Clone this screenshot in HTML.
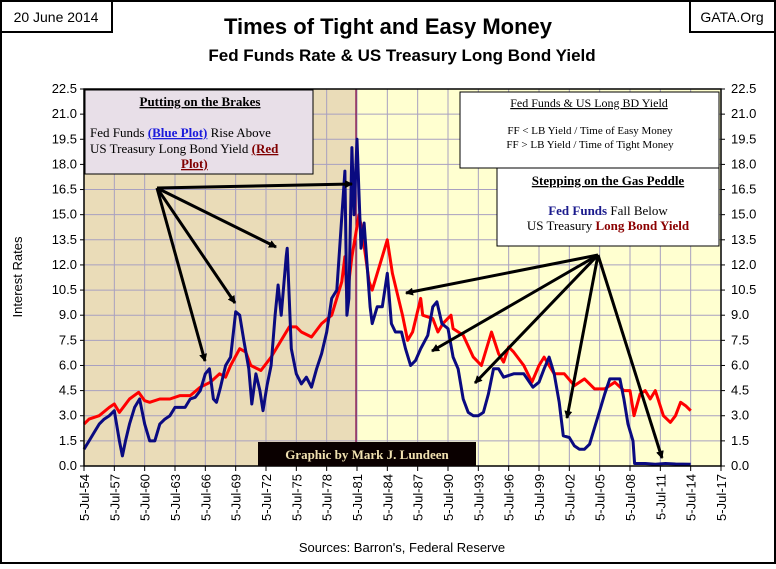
<!DOCTYPE html>
<html><head><meta charset="utf-8"><style>
body{margin:0;background:#fff}
svg text{font-family:"Liberation Sans",sans-serif}
.serif{font-family:"Liberation Serif",serif}
</style></head><body>
<svg id="chart" width="776" height="564" viewBox="0 0 776 564" xmlns="http://www.w3.org/2000/svg">
<defs>
<marker id="ah" markerWidth="8" markerHeight="8" refX="7" refY="4" orient="auto" markerUnits="userSpaceOnUse"><path d="M0,0 L8,4 L0,8 Z" fill="#000"/></marker>
</defs>
<rect x="1" y="1" width="774" height="562" fill="#fff" stroke="#000" stroke-width="2"/>
<rect x="84" y="89" width="272" height="377" fill="#eadcb8"/>
<rect x="356" y="89" width="365" height="377" fill="#ffffd0"/>
<g id="grid"></g>
<line x1="356" y1="89" x2="356" y2="466" stroke="#800040" stroke-width="1.2"/>
<g id="series"></g>
<rect x="84" y="89" width="637" height="377" fill="none" stroke="#000" stroke-width="1.5"/>
<g id="axes"></g>
<text x="388" y="34" text-anchor="middle" font-size="22" font-weight="bold">Times of Tight and Easy Money</text>
<text x="402" y="61" text-anchor="middle" font-size="17" font-weight="bold">Fed Funds Rate &amp; US Treasury Long Bond Yield</text>
<rect x="1" y="1" width="111" height="31" fill="#fff" stroke="#000" stroke-width="2"/>
<text x="56" y="22" text-anchor="middle" font-size="14">20 June 2014</text>
<rect x="690" y="1" width="85" height="31" fill="#fff" stroke="#000" stroke-width="2"/>
<text x="732" y="22" text-anchor="middle" font-size="14">GATA.Org</text>
<text transform="translate(22,277) rotate(-90)" text-anchor="middle" font-size="13">Interest Rates</text>
<text x="402" y="552" text-anchor="middle" font-size="13">Sources: Barron's, Federal Reserve</text>

<g>
<rect x="85" y="90" width="228" height="84" fill="#e8dfe8" stroke="#000"/>
<text class="serif" x="200" y="106" text-anchor="middle" font-size="13" font-weight="bold" text-decoration="underline">Putting on the Brakes</text>
<text class="serif" x="90" y="137" font-size="13">Fed Funds <tspan fill="#1a1adc" font-weight="bold" text-decoration="underline">(Blue Plot)</tspan> Rise Above</text>
<text class="serif" x="90" y="153" font-size="13">US Treasury Long Bond Yield <tspan fill="#800000" font-weight="bold" text-decoration="underline">(Red</tspan></text>
<text class="serif" x="181" y="168" font-size="13" fill="#800000" font-weight="bold" text-decoration="underline">Plot)</text>
</g>
<g>
<rect x="460" y="92" width="259" height="76" fill="#fff" stroke="#000"/>
<text class="serif" x="589" y="107" text-anchor="middle" font-size="12" text-decoration="underline">Fed Funds &amp; US Long BD Yield</text>
<text class="serif" x="590" y="134" text-anchor="middle" font-size="11">FF &lt; LB Yield / Time of Easy Money</text>
<text class="serif" x="590" y="148" text-anchor="middle" font-size="11">FF &gt; LB Yield / Time of Tight Money</text>
</g>
<g>
<rect x="497" y="168" width="222" height="78" fill="#fff" stroke="#000"/>
<text class="serif" x="608" y="185" text-anchor="middle" font-size="13" font-weight="bold" text-decoration="underline">Stepping on the Gas Peddle</text>
<text class="serif" x="608" y="215" text-anchor="middle" font-size="13"><tspan fill="#1a1a8c" font-weight="bold">Fed Funds</tspan> Fall Below</text>
<text class="serif" x="608" y="230" text-anchor="middle" font-size="13">US Treasury <tspan fill="#8b0000" font-weight="bold">Long Bond Yield</tspan></text>
</g>
<g>
<rect x="258" y="442" width="218" height="24" fill="#0a0000"/>
<text class="serif" x="367" y="459" text-anchor="middle" font-size="13" font-weight="bold" fill="#f0e0b0">Graphic by Mark J. Lundeen</text>
</g>
<g id="arrows" stroke="#000" stroke-width="3">
<line x1="157" y1="188" x2="352" y2="184" marker-end="url(#ah)"/>
<line x1="157" y1="188" x2="276" y2="247" marker-end="url(#ah)"/>
<line x1="157" y1="188" x2="235" y2="303" marker-end="url(#ah)"/>
<line x1="157" y1="188" x2="205" y2="361" marker-end="url(#ah)"/>
<line x1="598" y1="255" x2="406" y2="293" marker-end="url(#ah)"/>
<line x1="598" y1="255" x2="432" y2="351" marker-end="url(#ah)"/>
<line x1="598" y1="255" x2="475" y2="383" marker-end="url(#ah)"/>
<line x1="598" y1="255" x2="567" y2="418" marker-end="url(#ah)"/>
<line x1="598" y1="255" x2="662" y2="458" marker-end="url(#ah)"/>
</g>
</svg>
<script>
const yTicks=[0,1.5,3,4.5,6,7.5,9,10.5,12,13.5,15,16.5,18,19.5,21,22.5];
const xTickYears=[54,57,60,63,66,69,72,75,78,81,84,87,90,93,96,99,102,105,108,111,114,117];
const ffYears=[54.5,55,55.5,56,56.5,57,57.5,58,58.3,58.6,59,59.5,60,60.5,61,61.5,62,62.5,63,63.5,64,64.5,65,65.5,66,66.5,66.9,67.3,67.6,68,68.5,69,69.5,69.9,70.3,70.8,71.1,71.5,71.9,72.2,72.6,73,73.4,73.7,74,74.5,74.6,75,75.5,76,76.5,77,77.5,78,78.5,79,79.5,79.9,80.3,80.5,80.7,81,81.2,81.5,81.9,82.2,82.5,82.8,83,83.5,84,84.5,84.9,85.3,85.9,86.3,86.8,87.3,87.8,88.5,89,89.4,89.9,90.5,91,91.5,92,92.5,93,93.5,94,94.5,95,95.5,96,97,98,98.9,99.5,100,100.5,101,101.5,101.9,102.5,103,103.5,104,104.5,105,105.5,106,106.5,107,107.5,107.9,108.3,108.8,108.95,110,111,112,113,114.5];
const ffValues=[1.0,1.5,2.0,2.5,2.8,3.0,3.3,1.5,0.6,1.5,2.5,3.5,4.0,2.5,1.5,1.5,2.5,2.8,3.0,3.5,3.5,3.5,4.0,4.1,4.5,5.5,5.8,4.0,3.8,4.7,6.0,6.5,9.2,9.0,7.5,5.8,3.7,5.5,4.5,3.3,4.8,6.0,9.0,10.8,9.0,12.5,13.0,7.0,5.5,4.9,5.3,4.7,5.8,6.7,8.0,10.0,10.5,14.0,17.6,9.0,10.0,19.0,15.0,19.5,13.0,14.5,12.0,9.5,8.5,9.5,9.5,11.5,8.5,8.0,8.0,7.0,6.0,6.3,7.0,7.8,9.5,9.8,8.5,8.2,6.5,5.8,4.0,3.2,3.0,3.0,3.2,4.3,5.8,5.8,5.3,5.5,5.5,4.7,5.0,5.8,6.5,5.5,3.8,1.8,1.7,1.2,1.0,1.0,1.3,2.3,3.3,4.3,5.2,5.2,5.2,4.0,2.5,1.5,0.15,0.15,0.1,0.15,0.12,0.1];
const lbYears=[54.5,55,56,57,57.5,58,59,59.9,60.5,61,62,63,64,65,66,67,67.9,68.5,69,69.9,70.5,71,72,73,74,74.8,75.5,76,77,78,79,80,80.3,80.5,81,81.7,82,82.7,83,84,84.5,85,86,86.5,87,87.8,88,89,89.5,90,90.8,91,92,93,93.8,94.8,95.5,96,96.5,97,98,98.8,99.5,100,101,102,103,104,105,106,107,107.9,108.5,108.9,109.5,110,110.5,111,111.8,112.5,113,113.5,114,114.5];
const lbValues=[2.5,2.8,3.0,3.5,3.7,3.2,4.0,4.4,3.9,3.8,4.0,4.0,4.2,4.2,4.7,5.0,5.5,5.3,6.0,7.0,6.8,6.0,5.7,6.5,7.5,8.3,8.3,8.0,7.7,8.5,9.0,11.0,12.5,10.0,12.5,15.0,14.0,11.0,10.5,12.5,13.5,11.5,9.0,7.5,8.0,10.0,9.0,8.8,8.0,8.5,9.0,8.2,7.8,6.5,6.0,8.0,6.7,6.2,7.1,6.8,6.0,5.0,6.0,6.5,5.5,5.5,4.8,5.2,4.6,4.6,5.0,4.5,4.5,3.0,4.3,4.5,4.0,4.5,3.0,2.6,3.0,3.8,3.6,3.3];
const NS="http://www.w3.org/2000/svg";
const L=84,R=721,T=89,B=466,X0=54.5,X1=117.5,YMAX=22.5;
function xs(y){return L+(y-X0)/(X1-X0)*(R-L);}
function ys(v){return B-v/YMAX*(B-T);}
function mk(tag,attrs,parent){const e=document.createElementNS(NS,tag);for(const k in attrs)e.setAttribute(k,attrs[k]);parent.appendChild(e);return e;}
const grid=document.getElementById('grid'),axes=document.getElementById('axes'),series=document.getElementById('series');
yTicks.forEach(v=>{
 const g=mk('line',{x1:L,x2:R,y1:ys(v),y2:ys(v),stroke:'#a8a0c0','stroke-width':1},grid);
 
 
 const t1=mk('text',{x:L-7,y:ys(v)+4,'text-anchor':'end','font-size':13},axes);t1.textContent=v.toFixed(1);
 
 
 const t2=mk('text',{x:R+10,y:ys(v)+4,'font-size':13},axes);t2.textContent=v.toFixed(1);
 
 
 mk('line',{x1:L-4,x2:L,y1:ys(v),y2:ys(v),stroke:'#000'},axes);
 mk('line',{x1:R,x2:R+4,y1:ys(v),y2:ys(v),stroke:'#000'},axes);
});
xTickYears.forEach(yr=>{
 const x=xs(yr+0.5);
 const g=mk('line',{x1:x,x2:x,y1:T,y2:B,stroke:'#a8a0c0','stroke-width':1},grid);
 
 
 mk('line',{x1:x,x2:x,y1:B,y2:B+5,stroke:'#000'},axes);
 const t=mk('text',{transform:`translate(${x+5},${B+8}) rotate(-90)`,'text-anchor':'end','font-size':13},axes);
 t.textContent='5-Jul-'+String(yr%100).padStart(2,'0');
 
 
});
function line(years,vals,color,name){
 const d=years.map((y,i)=>(i?'L':'M')+xs(y).toFixed(1)+','+ys(vals[i]).toFixed(1)).join(' ');
 const p=mk('path',{d:d,fill:'none',stroke:color,'stroke-width':3,'stroke-linejoin':'round'},series);
 
 
}
line(lbYears,lbValues,'#ff0000','long-bond-yield-line');
line(ffYears,ffValues,'#0a0a80','fed-funds-line');
</script>
</body></html>
